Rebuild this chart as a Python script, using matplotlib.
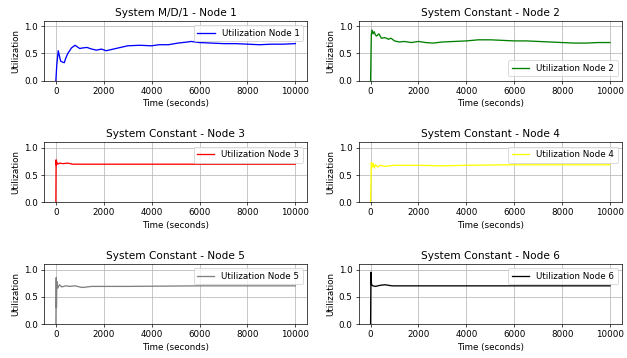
import numpy as np
import matplotlib
matplotlib.use('Agg')
import matplotlib.pyplot as plt

# utilization curves (time in seconds, utilization)
t1 = [0, 40, 100, 150, 200, 280, 350, 420, 500, 650, 800, 900, 1000, 1100, 1300, 1500, 1700, 1900,
      2100, 2400, 2700, 3000, 3500, 4000, 4300, 4700, 5100, 5500, 5650, 6000, 6500, 7000, 7500,
      8000, 8500, 9000, 9500, 10000]
u1 = [0.0, 0.3, 0.55, 0.45, 0.36, 0.34, 0.33, 0.42, 0.5, 0.6, 0.65, 0.62, 0.59, 0.6, 0.61, 0.58,
      0.56, 0.58, 0.55, 0.58, 0.61, 0.64, 0.65, 0.64, 0.66, 0.66, 0.69, 0.71, 0.72, 0.7, 0.69,
      0.68, 0.68, 0.67, 0.66, 0.67, 0.67, 0.68]

t2 = [0, 30, 60, 100, 150, 200, 250, 350, 450, 600, 750, 850, 1000, 1200, 1400, 1700, 2000,
      2300, 2600, 3000, 3500, 4000, 4500, 5000, 5500, 6000, 6500, 7000, 7500, 8000, 8500,
      9000, 9500, 10000]
u2 = [0.0, 0.85, 0.93, 0.86, 0.9, 0.84, 0.82, 0.86, 0.78, 0.79, 0.76, 0.78, 0.73, 0.71, 0.72,
      0.7, 0.72, 0.7, 0.69, 0.71, 0.72, 0.73, 0.75, 0.75, 0.74, 0.73, 0.73, 0.72, 0.71, 0.7,
      0.69, 0.69, 0.7, 0.7]

t3 = [0, 10, 20, 40, 80, 150, 300, 500, 700, 2000, 5000, 10000]
u3 = [0.0, 0.78, 0.68, 0.74, 0.7, 0.72, 0.71, 0.72, 0.7, 0.7, 0.7, 0.7]

t4 = [0, 30, 70, 100, 150, 200, 300, 400, 600, 800, 1000, 2000, 3000, 4000, 6000, 10000]
u4 = [0.0, 0.73, 0.65, 0.72, 0.63, 0.69, 0.65, 0.68, 0.66, 0.67, 0.68, 0.68, 0.67, 0.68,
      0.69, 0.69]

t5 = [0, 15, 25, 40, 80, 150, 250, 400, 600, 800, 1100, 1500, 3000, 6000, 10000]
u5 = [0.0, 0.85, 0.3, 0.78, 0.66, 0.72, 0.68, 0.7, 0.69, 0.7, 0.67, 0.69, 0.69, 0.7, 0.7]

t6 = [0, 15, 40, 100, 200, 400, 600, 900, 3000, 10000]
u6 = [0.0, 0.95, 0.72, 0.7, 0.69, 0.71, 0.72, 0.7, 0.7, 0.7]

times = [t1, t2, t3, t4, t5, t6]
utils = [u1, u2, u3, u4, u5, u6]
titles = ['System M/D/1 - Node 1', 'System Constant - Node 2', 'System Constant - Node 3',
          'System Constant - Node 4', 'System Constant - Node 5', 'System Constant - Node 6']
labels = ['Utilization Node %d' % (i + 1) for i in range(6)]
colors = ['blue', 'green', 'red', 'yellow', 'gray', 'black']
legend_loc = ['upper right', 'lower right', 'upper right', 'upper right', 'upper right', 'upper right']

fig, axes = plt.subplots(3, 2, figsize=(10, 5.71), dpi=62.7)
plt.subplots_adjust(left=0.070, right=0.992, top=0.942, bottom=0.095, hspace=1.03, wspace=0.195)

for i, ax in enumerate(axes.flat):
    ax.plot(times[i], utils[i], color=colors[i], label=labels[i])
    ax.set_title(titles[i])
    ax.set_xlabel('Time (seconds)')
    ax.set_ylabel('Utilization')
    ax.set_ylim(0, 1.1)
    ax.grid(True)
    ax.legend(loc=legend_loc[i])

plt.savefig('out.png', dpi=62.7)
